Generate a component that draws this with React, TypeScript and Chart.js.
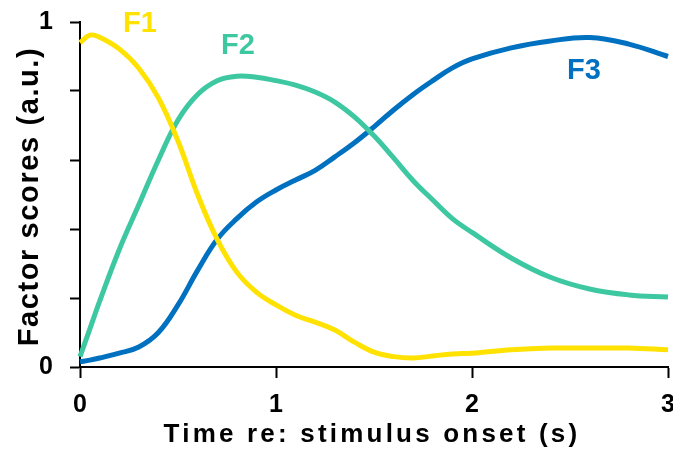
import React, { useEffect, useRef } from "react";
import { Chart, registerables } from "chart.js";

Chart.register(...registerables);

const timeS = [0, 0.05, 0.1, 0.2, 0.3, 0.4, 0.5, 0.6, 0.7, 0.8, 0.9, 1.0, 1.1, 1.2, 1.3, 1.4, 1.5, 1.6, 1.7, 1.8, 1.9, 2.0, 2.2, 2.4, 2.6, 2.8, 3.0];
const f1 = [0.94, 0.962, 0.956, 0.922, 0.866, 0.78, 0.655, 0.5, 0.37, 0.275, 0.217, 0.18, 0.15, 0.13, 0.107, 0.072, 0.043, 0.03, 0.026, 0.032, 0.038, 0.04, 0.05, 0.055, 0.055, 0.055, 0.05];
const f2 = [0.03, 0.11, 0.19, 0.34, 0.47, 0.6, 0.716, 0.79, 0.83, 0.843, 0.84, 0.83, 0.817, 0.797, 0.768, 0.725, 0.67, 0.606, 0.54, 0.484, 0.43, 0.39, 0.316, 0.26, 0.226, 0.209, 0.203];
const f3 = [0.015, 0.02, 0.026, 0.04, 0.058, 0.1, 0.18, 0.28, 0.37, 0.43, 0.478, 0.513, 0.542, 0.57, 0.609, 0.65, 0.696, 0.745, 0.79, 0.83, 0.867, 0.893, 0.925, 0.945, 0.955, 0.936, 0.9];

const seriesNames = ["F1", "F2", "F3"];
const seriesColors = ["#FFE200", "#3EC8A2", "#0070C0"];
const seriesValues = [f1, f2, f3];
// label anchor positions in data units
const labelX = [0.306, 0.806, 2.571];
const labelY = [0.994, 0.93, 0.857];

const xTickLabels = ["0", "1", "2", "3"];
const yTickLabels: Record<string, string> = { "0": "0", "1": "1" };
const xTitle = "Time re: stimulus onset (s)";
const yTitle = "Factor scores (a.u.)";

const FONT = "'Liberation Sans', Arial, sans-serif";

export default function App() {
  const ref = useRef<HTMLCanvasElement | null>(null);
  useEffect(() => {
    if (!ref.current) return;
    const labelPlugin = {
      id: "seriesLabels",
      afterDraw(chart: any) {
        const { ctx, scales, chartArea } = chart;
        ctx.save();
        ctx.font = `bold 29px ${FONT}`;
        ctx.textAlign = "center";
        ctx.textBaseline = "middle";
        seriesNames.forEach((n, i) => {
          ctx.fillStyle = seriesColors[i];
          ctx.fillText(n, scales.x.getPixelForValue(labelX[i]), scales.y.getPixelForValue(labelY[i]));
        });
        // axis titles
        ctx.fillStyle = "#000";
        ctx.textBaseline = "alphabetic";
        ctx.font = `bold 26px ${FONT}`;
        (ctx as any).letterSpacing = "3.2px";
        ctx.fillText(xTitle, (chartArea.left + chartArea.right) / 2 - 2, 442);
        ctx.save();
        ctx.translate(38, (chartArea.top + chartArea.bottom) / 2 + 2);
        ctx.rotate(-Math.PI / 2);
        ctx.font = `bold 29px ${FONT}`;
        (ctx as any).letterSpacing = "1.6px";
        ctx.fillText(yTitle, 0, 0);
        ctx.restore();
        (ctx as any).letterSpacing = "0px";
        ctx.restore();
      },
    };
    const chart = new Chart(ref.current, {
      type: "line",
      data: {
        datasets: seriesNames.map((n, i) => ({
          label: n,
          data: timeS.map((t, j) => ({ x: t, y: seriesValues[i][j] })),
          borderColor: seriesColors[i],
          backgroundColor: seriesColors[i],
          borderWidth: 5,
          pointRadius: 0,
          tension: 0.4,
          fill: false,
          clip: false as any,
        })),
      },
      options: {
        animation: false,
        responsive: true,
        maintainAspectRatio: false,
        layout: { padding: { left: 0, right: 5, top: 22, bottom: 0 } },
        plugins: { legend: { display: false }, tooltip: { enabled: false } },
        scales: {
          x: {
            type: "linear",
            min: 0,
            max: 3,
            afterFit: (s: any) => { s.height = 85; s.paddingLeft = 0; s.paddingRight = 0; },
            ticks: {
              stepSize: 1,
              padding: 12,
              color: "#000",
              font: { family: FONT, size: 25, weight: "bold" },
              callback: (v: any) => {
                const i = Math.round(Number(v));
                return Math.abs(Number(v) - i) < 1e-9 ? xTickLabels[i] : "";
              },
            },
            grid: { drawOnChartArea: false, drawTicks: true, tickLength: 11, tickColor: "#000", tickWidth: 2 },
            border: { display: true, color: "#000", width: 2 },
            title: { display: false },
          },
          y: {
            type: "linear",
            min: 0,
            max: 1,
            afterFit: (s: any) => { s.width = 80; s.paddingTop = 0; s.paddingBottom = 0; },
            ticks: {
              stepSize: 0.2,
              padding: 17,
              color: "#000",
              font: { family: FONT, size: 25, weight: "bold" },
              callback: (v: any) => {
                const n = Number(v);
                if (Math.abs(n) < 1e-9) return yTickLabels["0"];
                if (Math.abs(n - 1) < 1e-9) return yTickLabels["1"];
                return "";
              },
            },
            grid: { drawOnChartArea: false, drawTicks: true, tickLength: 10, tickColor: "#000", tickWidth: 2 },
            border: { display: true, color: "#000", width: 2 },
            title: { display: false },
          },
        },
      },
      plugins: [labelPlugin],
    });
    return () => chart.destroy();
  }, []);
  return (
    <div style={{ position: "fixed", left: 0, top: 0, width: 673, height: 452, background: "#fff" }}>
      <canvas ref={ref} />
    </div>
  );
}
